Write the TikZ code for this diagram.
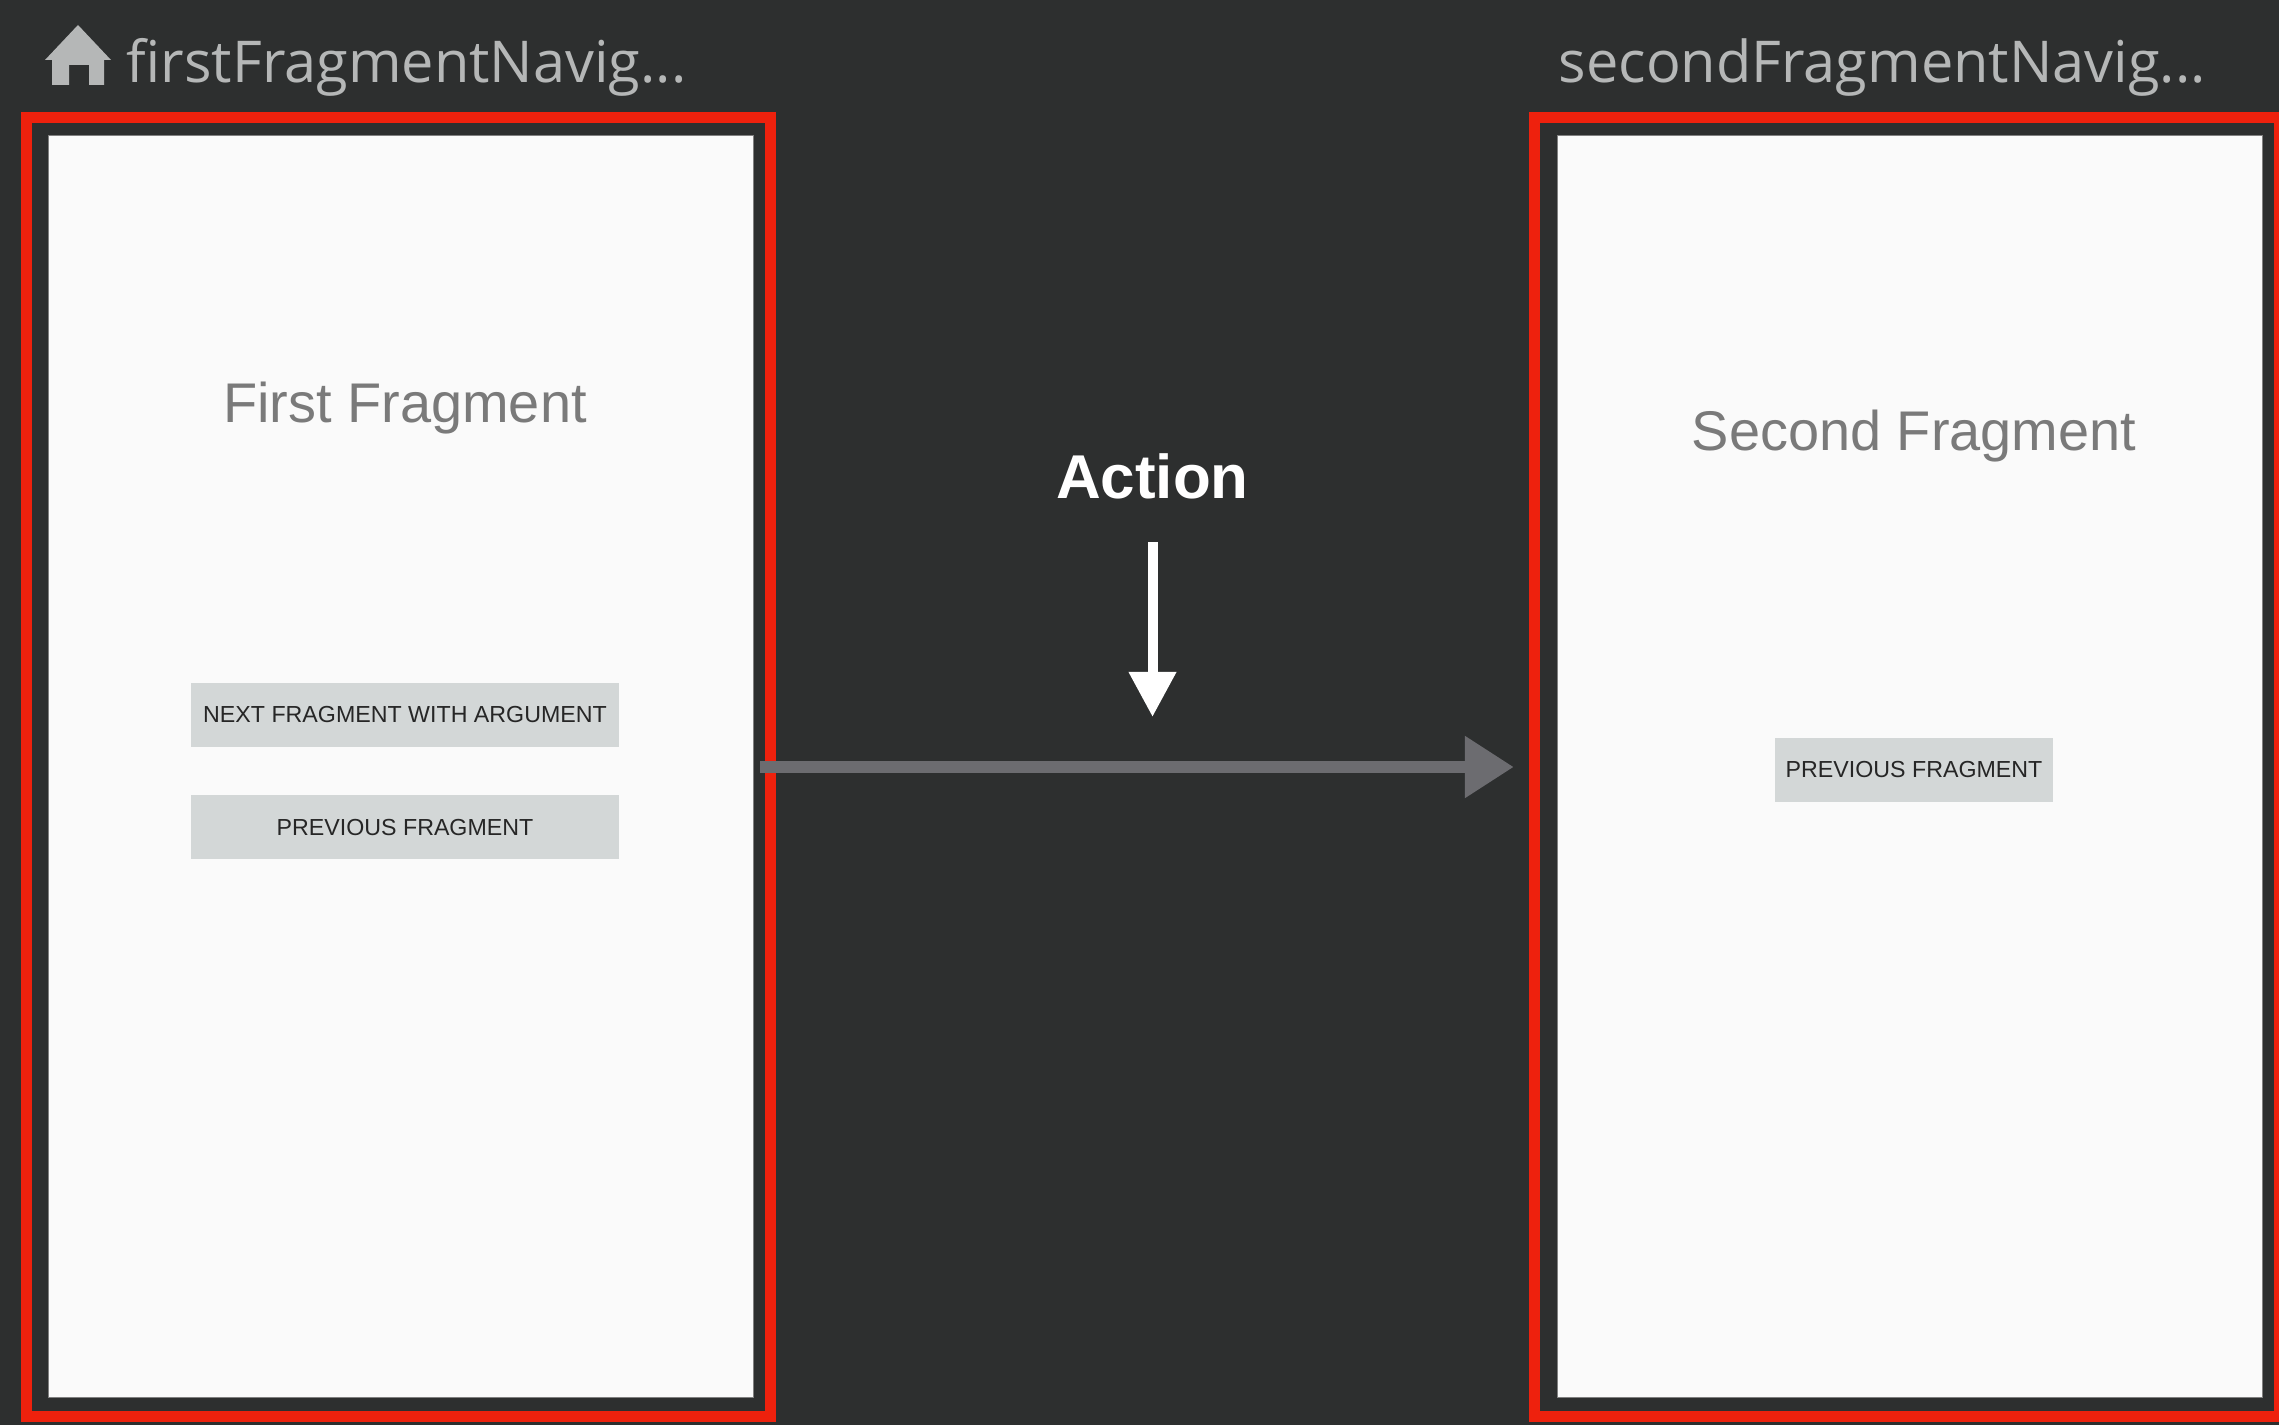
\documentclass[tikz,border=0pt]{standalone}
\usepackage{fontspec}
\setmainfont{Liberation Sans}
\newfontfamily\headerfont{Open Sans}
\usetikzlibrary{positioning,arrows.meta}
\definecolor{canvasgray}{HTML}{2D2F2F}
\definecolor{framered}{HTML}{EE210D}
\definecolor{panelwhite}{HTML}{FAFAFA}
\definecolor{buttongray}{HTML}{D3D7D7}
\definecolor{titlegray}{HTML}{7A7A7A}
\definecolor{headergray}{HTML}{B5B7B7}
\definecolor{actiongray}{HTML}{6C6C70}
\tikzset{
    frame/.style={rectangle, draw=framered, line width=0.11cm, minimum height=12.99cm, inner sep=0pt},
    panel/.style={rectangle, fill=panelwhite, draw=gray, line width=0.01cm, minimum width=7.05cm, minimum height=12.61cm, inner sep=0pt},
    title/.style={text=titlegray, font=\fontsize{15.9}{18}\selectfont, inner sep=0pt},
    button/.style={rectangle, fill=buttongray, text=black!85, minimum height=0.64cm, inner sep=0pt, font=\fontsize{6.6}{8}\selectfont},
    header/.style={text=headergray, anchor=base west, inner sep=0pt, font=\headerfont\fontsize{16.4}{18}\selectfont}
}
\begin{document}
\begin{tikzpicture}[x=0.01cm, y=-0.01cm]
    \fill[canvasgray] (0,0) rectangle (2279,1425);
    \useasboundingbox (0,0) rectangle (2279,1425);

    % Frames and screens
    \node (firstFrame) [frame, minimum width=7.44cm] at (398.5,767) {};
    \node (secondFrame) [frame, minimum width=7.45cm] at (1907,767) {};
    \node (firstPanel) [panel] at (401,766.5) {};
    \node (secondPanel) [panel] at (1910,766.5) {};

    % Headers
    \node (firstHeader) [header] at (126,83) {firstFragmentNavig...};
    \node (secondHeader) [header] at (1558,83) {secondFragmentNavig...};
    \fill[headergray, even odd rule] (78,25) -- (111,60) -- (104,60) -- (104,85) -- (89,85) -- (89,65)
        -- (69,65) -- (69,85) -- (52,85) -- (52,60) -- (45,60) -- cycle;

    % First screen
    \node (firstTitle) [title] at (405,408) {First Fragment};
    \node (nextButton) [button, minimum width=4.28cm] at (405,715) {NEXT FRAGMENT WITH ARGUMENT};
    \node (prevButton) [button, minimum width=4.28cm, below=0.47cm of nextButton] {PREVIOUS FRAGMENT};

    % Second screen
    \node (secondTitle) [title] at (1914,436) {Second Fragment};
    \node (backButton) [button, minimum width=2.77cm] at (1914,770) {PREVIOUS FRAGMENT};

    % Action
    \node (actionLabel) [text=white, inner sep=0pt, font=\fontsize{17.6}{20}\selectfont\bfseries] at (1152.5,476) {Action};
    \draw[-{Triangle[length=0.45cm, width=0.45cm]}, white, line width=0.1cm, shorten <=0.43cm, shorten >=0cm]
        (actionLabel.south) -- (1152.5,717) coordinate (actionTip);
    \draw[-{Triangle[length=0.49cm, width=0.59cm]}, actiongray, line width=0.12cm, shorten <=-0.16cm, shorten >=0.15cm]
        (firstFrame.east) -- (secondFrame.west);
\end{tikzpicture}
\end{document}
